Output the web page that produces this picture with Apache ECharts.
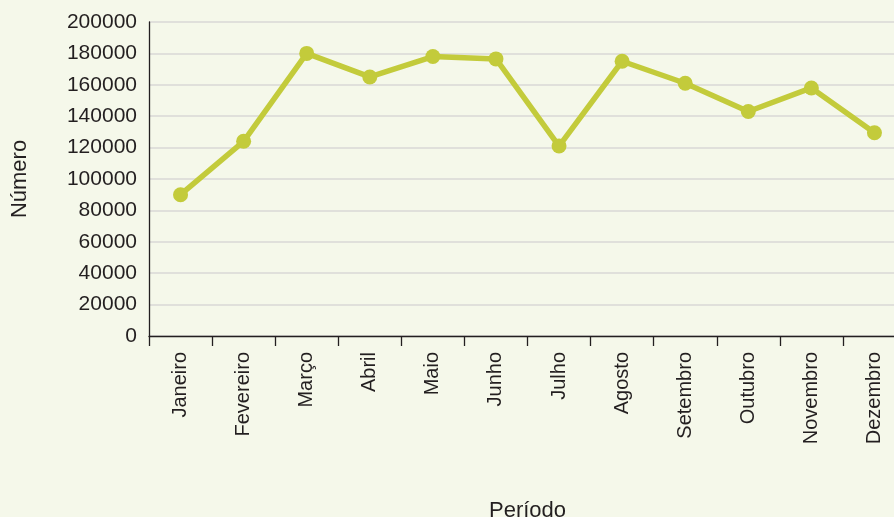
<!DOCTYPE html>
<html>
<head>
<meta charset="utf-8">
<script src="https://cdn.jsdelivr.net/npm/echarts@6/dist/echarts.min.js"></script>
<style>
  html, body { margin: 0; padding: 0; background: #f5f8ea; }
  #chart { width: 894px; height: 517px; }
</style>
</head>
<body>
<div id="chart"></div>
<script>
var meses = ['Janeiro', 'Fevereiro', 'Março', 'Abril', 'Maio', 'Junho', 'Julho', 'Agosto', 'Setembro', 'Outubro', 'Novembro', 'Dezembro'];
var numero = [90000, 124000, 180000, 165000, 178000, 176500, 121000, 175000, 161000, 143000, 158000, 129500];
var yMin = 0, yMax = 200000, yStep = 20000;

var lineChart = function(){
    var chart = echarts.init(document.getElementById('chart'));
    var textColor = '#231f20';
    var option = {
        backgroundColor: '#f5f8ea',
        animation: false,
        textStyle: { fontFamily: 'Liberation Sans, Arial, sans-serif' },
        // grid runs a little past the right edge, like the original
        grid: { left: 149, right: -12, top: 22, bottom: 181, outerBoundsMode: 'none' },
        xAxis: {
            type: 'category',
            data: meses,
            boundaryGap: true,
            name: 'Período',
            nameLocation: 'middle',
            nameGap: 164,
            nameTextStyle: { color: textColor, fontSize: 22 },
            axisLine: { lineStyle: { color: '#231f20', width: 1.3 } },
            axisTick: { show: true, length: 10, lineStyle: { color: '#231f20', width: 1.3 } },
            axisLabel: { rotate: 90, color: textColor, fontSize: 20, margin: 16, interval: 0 },
            splitLine: { show: false }
        },
        yAxis: {
            type: 'value',
            min: yMin,
            max: yMax,
            interval: yStep,
            name: 'Número',
            nameLocation: 'middle',
            nameGap: 118,
            nameTextStyle: { color: textColor, fontSize: 22 },
            axisLine: { show: true, lineStyle: { color: '#231f20', width: 1.3 } },
            axisTick: { show: false },
            axisLabel: { color: textColor, fontSize: 21, margin: 12, formatter: function(v){ return String(v); } },
            splitLine: { lineStyle: { color: '#d8d8d6', width: 1.5 } }
        },
        series: [{
            name: 'Número',
            type: 'line',
            data: numero,
            symbol: 'circle',
            symbolSize: 15,
            itemStyle: { color: '#c3cb3b' },
            lineStyle: { color: '#c3cb3b', width: 5.5 }
        }]
    };
    chart.setOption(option);
}()
</script>
</body>
</html>
